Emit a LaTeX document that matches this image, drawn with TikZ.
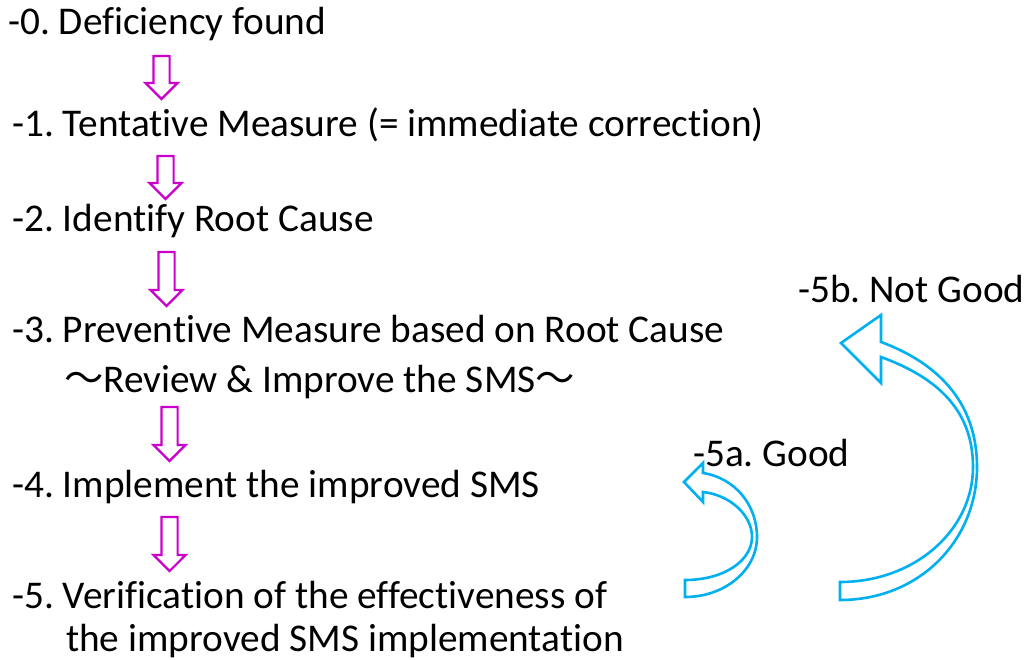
\documentclass[tikz,border=0pt]{standalone}
\usepackage{fontspec}
\setmainfont[Ligatures=NoCommon]{Carlito}
\newfontfamily\cjk{Noto Sans CJK JP}
\usepackage{xcolor}
\usetikzlibrary{shapes.arrows}
\definecolor{stepmagenta}{HTML}{CC00CC}
\definecolor{loopblue}{HTML}{00B0F0}
\frenchspacing

\tikzset{
	stagetext/.style={anchor=base west, inner sep=0pt, font=\fontsize{39.3}{47}\selectfont},
	downarrow/.style={draw=stepmagenta, line width=2.2pt, single arrow, shape border rotate=270,
		inner sep=7pt, single arrow head extend=8pt, minimum width=0pt},
	loopband/.style={draw=loopblue, line width=2.6pt, line join=miter}
}

\begin{document}
\begin{tikzpicture}[
		x=1pt, y=-1pt,
		line cap=round
		]
		\useasboundingbox (0,0) rectangle (1033,660);
		\fill[white] (0,0) rectangle (1033,660);
		
		% Steps
		\node[stagetext] (s0) at (8,35) {-0. Deficiency found};
		\node[stagetext] (s1) at (12,137) {-1. Tentative Measure (= immediate correction)};
		\node[stagetext] (s2) at (12,232) {-2. Identify Root Cause};
		\node[stagetext] (s3) at (12,342) {-3. Preventive Measure based on Root Cause};
		\node[stagetext] (s3b) at (64,392) {{\cjk ～}Review \& Improve the SMS{\cjk ～}};
		\node[stagetext] (s4) at (12,497) {-4. Implement the improved SMS};
		\node[stagetext] (s5) at (12,608) {-5. Verification of the effectiveness of};
		\node[stagetext] (s5b) at (66,651) {the improved SMS implementation};
		\node[stagetext] (good) at (693,466) {-5a. Good};
		\node[stagetext] (notgood) at (798,302) {-5b. Not Good};
		
		% Down arrows between the steps
		\foreach \n/\x/\y/\len in {1/161.5/73.5/43, 2/165.5/173.5/43, 3/166.5/275/54, 4/169.5/430/54, 5/169.5/540/54} {
			\node[downarrow, minimum height=\len] (dn\n) at (\x,\y) {};
		}
		
		% Curved arrow (good)
		\draw[loopband] (685,580) .. controls (725,580) and (752,560) .. (752,537)
			.. controls (752,515) and (730,495) .. (703,492)
			-- (703,502) -- (684,482) -- (703,463) -- (703,473)
			.. controls (735,478) and (757,505) .. (757,537)
			.. controls (757,570) and (725,597) .. (685,597) -- cycle;
		
		% Curved arrow (not good)
		\draw[loopband] (840,582) .. controls (915,582) and (973,530) .. (973,467)
			.. controls (973,405) and (930,375) .. (881,357)
			-- (881,383) -- (841,343) -- (881,315) -- (881,342)
			.. controls (935,362) and (977,400) .. (977,467)
			.. controls (977,540) and (920,600) .. (840,600) -- cycle;
		
	\end{tikzpicture}
\end{document}
